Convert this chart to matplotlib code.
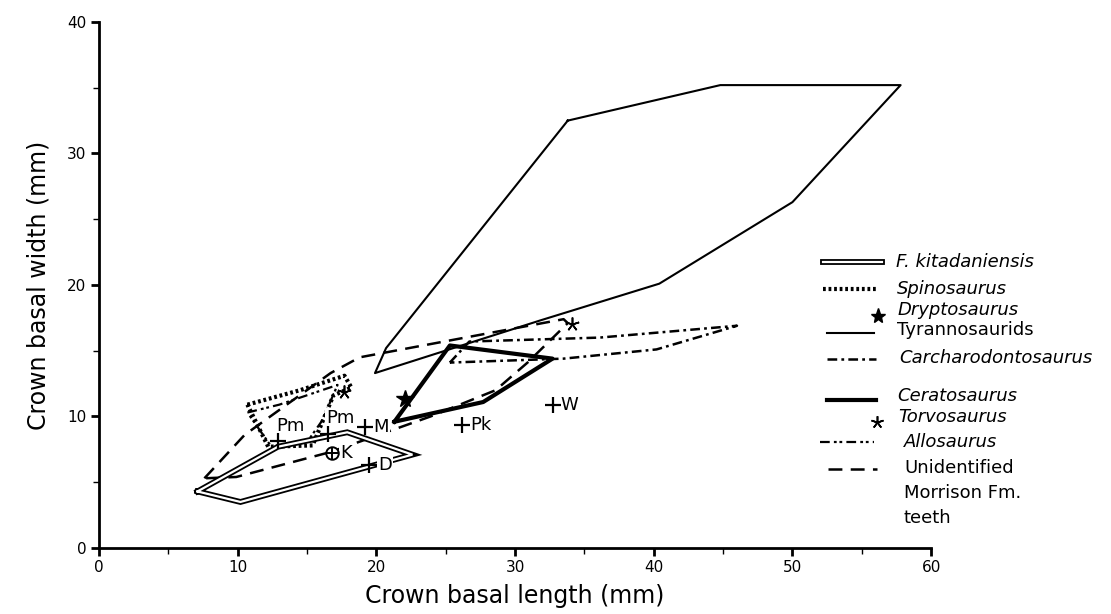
import matplotlib
matplotlib.use("Agg")
import matplotlib.pyplot as plt
from matplotlib.ticker import MultipleLocator

plt.rcParams['font.family'] = ['DejaVu Sans']
plt.rcParams['lines.scale_dashes'] = False

# polygon outlines: crown basal length (mm), crown basal width (mm)
kit_x = [7.1, 10.2, 22.6, 17.9, 12.9]
kit_y = [4.3, 3.5, 7.1, 8.8, 7.7]

spino_x = [10.7, 14.5, 17.7, 18.2, 16.9, 15.4, 12.2]
spino_y = [10.9, 12.0, 13.1, 12.2, 11.6, 7.8, 7.7]

allo_x = [10.7, 13.0, 17.2, 16.1, 15.1, 12.5]
allo_y = [10.3, 10.9, 12.4, 9.7, 8.2, 7.6]

tyr_x = [33.8, 44.8, 57.8, 50.0, 40.4, 31.8, 19.9, 20.7]
tyr_y = [32.5, 35.2, 35.2, 26.3, 20.1, 17.3, 13.3, 15.2]

carch_x = [25.3, 26.7, 36.1, 46.0, 40.2, 33.5]
carch_y = [14.1, 15.7, 16.0, 16.9, 15.1, 14.4]

cerat_x = [21.3, 25.3, 32.7, 27.7]
cerat_y = [9.6, 15.4, 14.4, 11.1]

morr_x = [7.6, 10.5, 16.7, 18.8, 33.5, 33.8, 30.9, 28.6, 23.9, 16.7, 9.9]
morr_y = [5.3, 8.6, 13.3, 14.5, 17.4, 17.1, 14.1, 12.0, 10.0, 7.3, 5.4]

drypto_x = [22.1]
drypto_y = [11.3]
torvo_x = [17.7, 34.1]
torvo_y = [11.9, 17.0]

# single specimens
spec_names = ['Pm', 'Pm', 'M', 'D', 'Pk', 'W']
spec_x = [12.9, 16.5, 19.2, 19.5, 26.2, 32.7]
spec_y = [8.1, 8.7, 9.2, 6.3, 9.35, 10.9]
k_x = [16.8]
k_y = [7.2]


def closed(v):
    return list(v) + [v[0]]


fig = plt.figure(figsize=(11.11, 6.14), dpi=100)
ax = fig.add_axes([0.0891, 0.1075, 0.749, 0.8567])

# F. kitadaniensis: double line
ax.plot(closed(kit_x), closed(kit_y), color='black', lw=4.2, solid_joinstyle='miter', zorder=3)
ax.plot(closed(kit_x), closed(kit_y), color='white', lw=1.6, solid_joinstyle='miter', zorder=3.1)

ax.plot(closed(spino_x), closed(spino_y), color='black', lw=3, linestyle=(0, (2, 2)), zorder=2)
ax.plot(closed(allo_x), closed(allo_y), color='black', lw=1.6, linestyle=(0, (7, 3, 2, 2, 2, 3)), zorder=2)
ax.plot(closed(tyr_x), closed(tyr_y), color='black', lw=1.5, zorder=2)
ax.plot(closed(carch_x), closed(carch_y), color='black', lw=1.8, linestyle=(0, (7, 3, 2, 3)), zorder=2)
ax.plot(closed(cerat_x), closed(cerat_y), color='black', lw=3, zorder=2.5)
ax.plot(closed(morr_x), closed(morr_y), color='black', lw=1.8, linestyle=(0, (10, 6)), zorder=2)

ax.plot(drypto_x, drypto_y, marker='*', ms=13, color='black', ls='none', zorder=4)
ax.plot(torvo_x, torvo_y, marker=(5, 2, 0), ms=10, color='black', mew=1.2, ls='none', zorder=4)

ax.plot(spec_x, spec_y, marker='+', ms=12, mew=1.6, color='black', ls='none', zorder=5)
for name, x, y in zip(spec_names, spec_x, spec_y):
    if name == 'Pm':
        off = (9, 11)
        ha = 'center'
    else:
        off = (6, 0)
        ha = 'left'
    ax.annotate(name, (x, y), xytext=off, textcoords='offset points', ha=ha, va='center',
                fontsize=13, zorder=4.5,
                bbox=dict(boxstyle='square,pad=0.05', fc='white', ec='none'))
ax.plot(k_x, k_y, marker='o', ms=9, mfc='white', mec='black', mew=1.4, ls='none', zorder=5)
ax.plot(k_x, k_y, marker='+', ms=9, mew=1.4, color='black', ls='none', zorder=5.1)
ax.annotate('K', (k_x[0], k_y[0]), xytext=(6, 0), textcoords='offset points', ha='left', va='center',
            fontsize=13, zorder=4.5, bbox=dict(boxstyle='square,pad=0.05', fc='white', ec='none'))

ax.set_xlim(0, 60)
ax.set_ylim(0, 40)
for s in ['top', 'right']:
    ax.spines[s].set_visible(False)
for s in ['left', 'bottom']:
    ax.spines[s].set_linewidth(2)
ax.xaxis.set_major_locator(MultipleLocator(10))
ax.xaxis.set_minor_locator(MultipleLocator(5))
ax.yaxis.set_major_locator(MultipleLocator(10))
ax.yaxis.set_minor_locator(MultipleLocator(5))
ax.tick_params(which='major', direction='out', length=6, width=2, labelsize=11, pad=3)
ax.tick_params(which='minor', direction='out', length=4, width=1)
ax.set_xlabel('Crown basal length (mm)', fontsize=17, labelpad=6)
ax.set_ylabel('Crown basal width (mm)', fontsize=17, labelpad=12)

# legend drawn on an overlay in pixel units
lg = fig.add_axes([0, 0, 1, 1], zorder=5)
lg.set_xlim(0, 1111)
lg.set_ylim(614, 0)
lg.axis('off')
lg.patch.set_alpha(0)

lg.plot([823, 882], [262, 262], color='black', lw=4.2)
lg.plot([823, 882], [262, 262], color='white', lw=1.6)
lg.text(896, 262, 'F. kitadaniensis', style='italic', fontsize=13, va='center')
lg.plot([823, 876], [289, 289], color='black', lw=3, linestyle=(0, (2, 2)))
lg.text(897, 289, 'Spinosaurus', style='italic', fontsize=13, va='center')
lg.plot([878], [316], marker='*', ms=11, color='black')
lg.text(898, 310, 'Dryptosaurus', style='italic', fontsize=13, va='center')
lg.plot([827, 874], [333, 333], color='black', lw=1.5)
lg.text(897, 330, 'Tyrannosaurids', fontsize=13, va='center')
lg.plot([827, 876], [359, 359], color='black', lw=1.8, linestyle=(0, (7, 3, 2, 3)))
lg.text(899, 358, 'Carcharodontosaurus', style='italic', fontsize=13, va='center')
lg.plot([827, 876], [400, 400], color='black', lw=3)
lg.text(897, 396, 'Ceratosaurus', style='italic', fontsize=13, va='center')
lg.plot([877], [422], marker=(5, 2, 0), ms=9, mew=1.2, color='black')
lg.text(898, 417, 'Torvosaurus', style='italic', fontsize=13, va='center')
lg.plot([820, 874], [442, 442], color='black', lw=1.6, linestyle=(0, (7, 3, 2, 2, 2, 3)))
lg.text(904, 442, 'Allosaurus', style='italic', fontsize=13, va='center')
lg.plot([828, 877], [469, 469], color='black', lw=1.8, linestyle=(0, (10, 6)))
lg.text(904, 468, 'Unidentified', fontsize=13, va='center')
lg.text(904, 493, 'Morrison Fm.', fontsize=13, va='center')
lg.text(904, 518, 'teeth', fontsize=13, va='center')

fig.savefig('out.png', dpi=100)
